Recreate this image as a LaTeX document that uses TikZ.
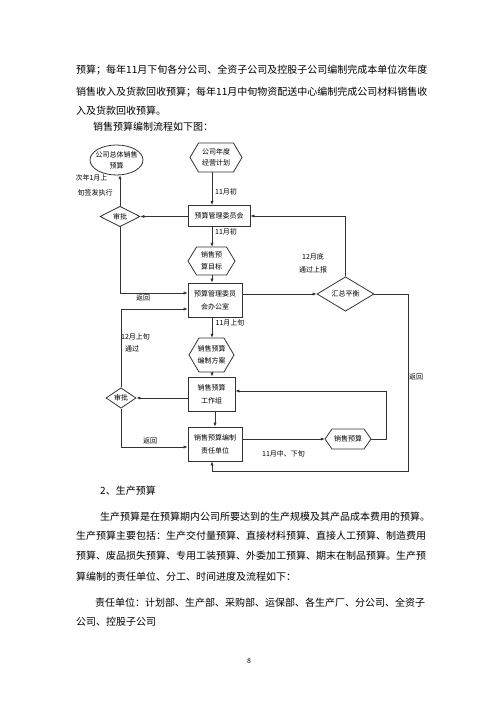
\documentclass[tikz,border=0pt]{standalone}
\usepackage{fontspec}
\setmainfont{Noto Sans CJK SC}
\usetikzlibrary{arrows.meta,shapes.geometric,calc}
\newcommand\hxn[6]{%
  \node[hexl, minimum width=2*#3, minimum height=2*#4] (#1) at (#2) {#6};
  \draw[shp] ($(#1.center)+(-#3,0)$) -- ($(#1.center)+(-#3+#5,-#4)$) -- ($(#1.center)+(#3-#5,-#4)$) -- ($(#1.center)+(#3,0)$) -- ($(#1.center)+(#3-#5,#4)$) -- ($(#1.center)+(-#3+#5,#4)$) -- cycle;}
\begin{document}
\begin{tikzpicture}[x=1pt,y=-1pt,
  body/.style={anchor=west, inner sep=0, font=\fontsize{10}{12}\selectfont},
  lbl/.style={inner sep=0, font=\fontsize{7}{11}\selectfont, align=center},
  hexl/.style={inner sep=0, font=\fontsize{7}{11.5}\selectfont, align=center},
  shp/.style={line width=0.8pt, draw=black!80},
  box/.style={draw=black!80, line width=0.8pt, inner sep=0, align=center, font=\fontsize{7}{13}\selectfont},
  dia/.style={draw=black!80, shape=diamond, line width=0.8pt, inner sep=0, font=\fontsize{7}{9}\selectfont},
  con/.style={line width=0.7pt, draw=black!80},
  arr/.style={con, -{Latex[length=4pt,width=3.2pt]}}]
\useasboundingbox (0,0) rectangle (500,708);
\fill[white] (0,0) rectangle (500,708);

% body text above
\node[body] (t1) at (76,70.5) {预算；每年11月下旬各分公司、全资子公司及控股子公司编制完成本单位次年度};
\node[body] (t2) at (76,92) {销售收入及货款回收预算；每年11月中旬物资配送中心编制完成公司材料销售收};
\node[body] (t3) at (76,111) {入及货款回收预算。};
\node[body] (t4) at (93,126.5) {销售预算编制流程如下图：};

% flowchart nodes
\coordinate (sp) at (212,0);
\node[lbl, minimum width=53pt, minimum height=30pt] (E) at (116.5,160) {公司总体销售\\预算};
\draw[shp] (E.center) ellipse [x radius=26.5, y radius=15];
\hxn{H1}{216,157.5}{26}{14.5}{8.5}{公司年度\\经营计划}
\node[box, minimum width=62pt, minimum height=21pt] (B1) at (219,216) {预算管理委员会};
\node[dia, minimum width=40pt, minimum height=18pt] (D1) at (120,216.5) {审批};
\hxn{H2}{211.5,261}{23.5}{14}{8.5}{销售预\\算目标}
\node[box, minimum width=54pt, minimum height=34pt] (B2) at (215,300) {预算管理委员\\会办公室};
\node[dia, minimum width=57pt, minimum height=33pt] (D3) at (345.5,294) {汇总平衡};
\hxn{H3}{211.5,355}{22.5}{17}{10}{销售预算\\编制方案}
\node[box, minimum width=47pt, minimum height=34pt] (B3) at (211.5,394) {销售预算\\工作组};
\node[dia, minimum width=30pt, minimum height=20pt] (D2) at (121,398) {审批};
\node[box, minimum width=54pt, minimum height=34pt] (B4) at (215,444) {销售预算编制\\责任单位};
\hxn{H4}{348,439}{23}{10}{7}{销售预算}

% connectors
\draw[arr] (H1.south -| sp) -- (B1.north -| sp);
\node[lbl] (L1) at (226,192) {11月初};
\draw[arr] (B1.south -| sp) -- (H2.north -| sp);
\node[lbl] (L2) at (226,232) {11月初};
\draw[arr] (H2.south -| sp) -- (B2.north -| sp);
\draw[arr] (B2.south -| sp) -- (H3.north -| sp);
\node[lbl] (L3) at (230,323) {11月上旬};
\draw[arr] (H3.south -| sp) -- (B3.north -| sp);
\draw[arr] (B3.south -| B4) -- (B4.north);

\draw[arr] (B1.west |- D1.east) -- (D1.east);
\draw[arr] (D1.north) -- (D1.north |- E.south);
\node[lbl] (L4) at (91.5,178) {次年1月上};
\node[lbl] (L5) at (95,193) {旬签发执行};
\draw[arr] (D1.south) |- ($(B2.west)+(0,-7)$);
\node[lbl] (L6) at (143,297.5) {返回};
\draw[arr] (D2.north) |- ($(B2.west)+(0,9)$);
\node[lbl] (L7) at (135.5,337) {12月上旬};
\node[lbl] (L8) at (132,349) {通过};

\draw[arr] (B2.east |- D3.west) -- (D3.west);
\draw[arr] (D3.north) |- (B1.east);
\node[lbl] (L9) at (313,257) {12月底};
\node[lbl] (L10) at (313,270) {通过上报};

\coordinate (rr) at (408,0);
\coordinate (bb) at (0,471);
\draw[arr] (D3.east) -- (D3.east -| rr) -- (rr |- bb) -- (sp |- bb) -- (B4.south -| sp);
\node[lbl, anchor=west] (L11) at (409,377) {返回};

\draw[arr] (B3.west |- D2.east) -- (D2.east);
\draw[arr] (D2.south) |- ($(B4.west)+(0,3)$);
\node[lbl] (L12) at (150,441) {返回};
\draw[arr] (B4.east |- H4.west) -- (H4.west);
\node[lbl] (L13) at (283.5,454) {11月中、下旬};
\draw[arr] (H4.east) -- ++(15,0) |- ($(B3.east)+(0,-3)$);

% body text below
\node[body] (s1) at (100,491) {2、生产预算};
\node[body] (s2) at (100,517) {生产预算是在预算期内公司所要达到的生产规模及其产品成本费用的预算。};
\node[body] (s3) at (76,536) {生产预算主要包括：生产交付量预算、直接材料预算、直接人工预算、制造费用};
\node[body] (s4) at (76,556) {预算、废品损失预算、专用工装预算、外委加工预算、期末在制品预算。生产预};
\node[body] (s5) at (76,577) {算编制的责任单位、分工、时间进度及流程如下：};
\node[body] (s6) at (95,603) {责任单位：计划部、生产部、采购部、运保部、各生产厂、分公司、全资子};
\node[body] (s7) at (76,622) {公司、控股子公司};
\node[inner sep=0, font=\fontsize{7}{8}\selectfont] (pg) at (249,661) {8};
\end{tikzpicture}
\end{document}
